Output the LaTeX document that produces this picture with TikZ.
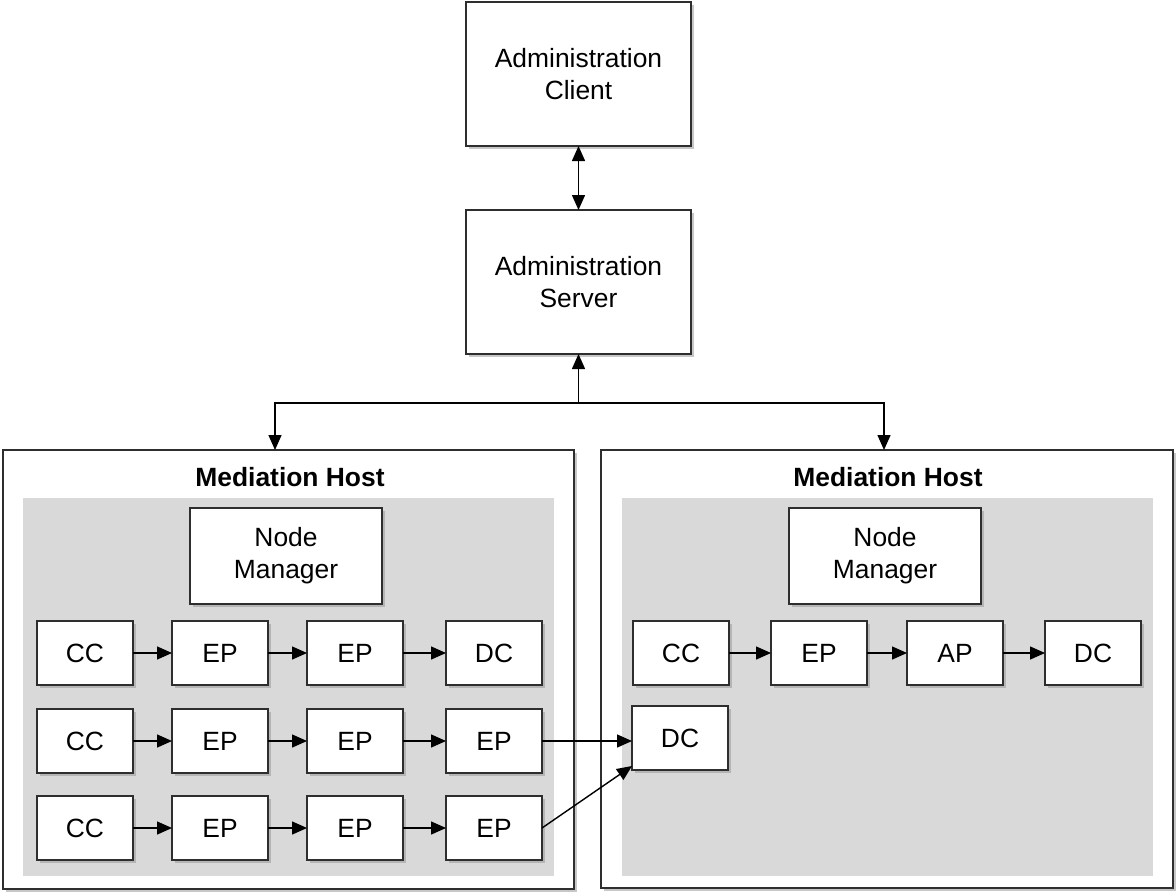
\documentclass[tikz,border=0pt]{standalone}
\usepackage{fontspec}
\setmainfont{Liberation Sans}
\usetikzlibrary{shadows,arrows.meta}
\definecolor{linec}{HTML}{2E2E2E}
\definecolor{areac}{HTML}{D9D9D9}
\tikzset{
  shad/.style={drop shadow={shadow xshift=1.6pt, shadow yshift=-1.6pt, fill=black!40, opacity=0.55}},
  box/.style={draw=linec, line width=0.85pt, fill=white, shad, inner sep=0pt, outer sep=0pt,
    minimum width=48pt, minimum height=32pt, align=center, font=\fontsize{13.2}{16}\selectfont},
  bigbox/.style={box, minimum width=112.5pt, minimum height=72pt},
  nmbox/.style={box, minimum width=96pt, minimum height=48pt},
  hostbox/.style={draw=linec, line width=0.85pt, fill=white, shad, inner sep=0pt, outer sep=0pt},
  area/.style={fill=areac, draw=none, inner sep=0pt, outer sep=0pt},
  title/.style={font=\fontsize{13.2}{16}\selectfont\bfseries},
  tip/.style={},
  arr/.style={draw=black, line width=0.7pt, -{Triangle[length=7.5pt,width=6.5pt]}},
  darr/.style={draw=black, line width=0.7pt, {Triangle[length=7.5pt,width=6.5pt]}-{Triangle[length=7.5pt,width=6.5pt]}}
}
\begin{document}
\begin{tikzpicture}[x=0.5pt,y=-0.5pt]
\useasboundingbox (0,0) rectangle (1176,894);
% hosts
\node[hostbox, minimum width=285.5pt, minimum height=219.5pt] (h1) at (288.5,669.5) {};
\node[hostbox, minimum width=286pt, minimum height=219pt] (h2) at (887,669) {};
\node[area, minimum width=265.5pt, minimum height=189pt] (a1) at (288.5,687) {};
\node[area, minimum width=265.5pt, minimum height=189pt] (a2) at (887.5,687) {};
\node[title] (t1) at (290,477) {Mediation Host};
\node[title] (t2) at (888,477) {Mediation Host};
% admin
\node[bigbox] (ac) at (578.5,74) {Administration\\Client};
\node[bigbox] (as) at (578.5,282) {Administration\\Server};
\draw[darr] (ac) -- (as);
\coordinate (j) at (578.5,403);
\coordinate (h1t) at (275,450);
\coordinate (h2t) at (884,450);
\draw[arr] (j) -- (j |- as.south);
\draw[arr] (j) -| (h1t);
\draw[arr] (j) -| (h2t);
% node managers
\node[nmbox] (nm1) at (286,556) {Node\\Manager};
\node[nmbox] (nm2) at (885,556) {Node\\Manager};
% left rows
\node[box] (cc1) at (85,653) {CC};
\node[box] (ep11) at (220,653) {EP};
\node[box] (ep12) at (355,653) {EP};
\node[box] (dc1) at (494,653) {DC};
\node[box] (cc2) at (85,741) {CC};
\node[box] (ep21) at (220,741) {EP};
\node[box] (ep22) at (355,741) {EP};
\node[box] (ep23) at (494,741) {EP};
\node[box] (cc3) at (85,828) {CC};
\node[box] (ep31) at (220,828) {EP};
\node[box] (ep32) at (355,828) {EP};
\node[box] (ep33) at (494,828) {EP};
\draw[arr] (cc1) -- (ep11);
\draw[arr] (ep11) -- (ep12);
\draw[arr] (ep12) -- (dc1);
\draw[arr] (cc2) -- (ep21);
\draw[arr] (ep21) -- (ep22);
\draw[arr] (ep22) -- (ep23);
\draw[arr] (cc3) -- (ep31);
\draw[arr] (ep31) -- (ep32);
\draw[arr] (ep32) -- (ep33);
% right rows
\node[box] (cc4) at (681,653) {CC};
\node[box] (ep4) at (819,653) {EP};
\node[box] (ap4) at (955,653) {AP};
\node[box] (dc4) at (1093,653) {DC};
\draw[arr] (cc4) -- (ep4);
\draw[arr] (ep4) -- (ap4);
\draw[arr] (ap4) -- (dc4);
\node[box] (dc5) at (680,738) {DC};
\draw[arr] (ep23.east) -- (ep23.east -| dc5.west);
\draw[arr] (ep33.east) -- ([yshift=2pt]dc5.south west);
\end{tikzpicture}
\end{document}
